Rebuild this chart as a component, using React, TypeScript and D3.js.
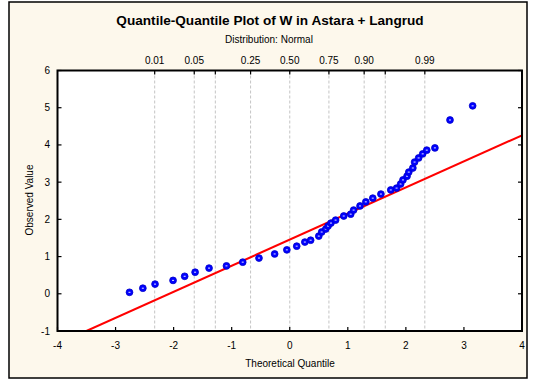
import React from 'react';
import * as d3 from 'd3';

const theoretical = [
    -2.76, -2.53, -2.32, -2.01, -1.81, -1.63, -1.39, -1.09, -0.81, -0.53, -0.26, -0.05,
    0.12, 0.26, 0.36, 0.5, 0.55, 0.62, 0.66, 0.71, 0.79, 0.93, 1.05, 1.1, 1.21, 1.31,
    1.43, 1.57, 1.74, 1.84, 1.91, 1.95, 2.02, 2.05, 2.12, 2.15, 2.22, 2.29, 2.36, 2.5,
    2.76, 3.15,
];
const observed = [
    0.04, 0.15, 0.26, 0.36, 0.47, 0.58, 0.69, 0.75, 0.85, 0.96, 1.07, 1.18,
    1.28, 1.39, 1.44, 1.55, 1.66, 1.74, 1.82, 1.9, 1.98, 2.09, 2.14, 2.25, 2.36, 2.47,
    2.57, 2.68, 2.79, 2.84, 2.95, 3.06, 3.16, 3.27, 3.38, 3.54, 3.65, 3.76, 3.86, 3.92,
    4.67, 5.05,
];

// fitted normal line: observed = mean + sd * z
const fitMean = 1.455;
const fitSd = 0.701;

const xTicks = [-4, -3, -2, -1, 0, 1, 2, 3, 4];
const yTicks = [-1, 0, 1, 2, 3, 4, 5, 6];
const probTicks = [0.01, 0.05, 0.1, 0.25, 0.5, 0.75, 0.9, 0.95, 0.99];
const probLabels = ['0.01', '0.05', '', '0.25', '0.50', '0.75', '0.90', '', '0.99'];

const font = '"Liberation Sans", Arial, sans-serif';

// inverse normal CDF (Acklam's approximation) for the probability scale on top
const invNorm = (p: number) => {
    const a = [-3.969683028665376e1, 2.209460984245205e2, -2.759285104469687e2, 1.38357751867269e2, -3.066479806614716e1, 2.506628277459239];
    const b = [-5.447609879822406e1, 1.615858368580409e2, -1.556989798598866e2, 6.680131188771972e1, -1.328068155288572e1];
    const c = [-7.784894002430293e-3, -3.223964580411365e-1, -2.400758277161838, -2.549732539343734, 4.374664141464968, 2.938163982698783];
    const dd = [7.784695709041462e-3, 3.224671290700398e-1, 2.445134137142996, 3.754408661907416];
    const pl = 0.02425;
    if (p < pl) {
        const q = Math.sqrt(-2 * Math.log(p));
        return (((((c[0] * q + c[1]) * q + c[2]) * q + c[3]) * q + c[4]) * q + c[5]) /
            ((((dd[0] * q + dd[1]) * q + dd[2]) * q + dd[3]) * q + 1);
    }
    if (p > 1 - pl) {
        const q = Math.sqrt(-2 * Math.log(1 - p));
        return -(((((c[0] * q + c[1]) * q + c[2]) * q + c[3]) * q + c[4]) * q + c[5]) /
            ((((dd[0] * q + dd[1]) * q + dd[2]) * q + dd[3]) * q + 1);
    }
    const q = p - 0.5;
    const r = q * q;
    return (((((a[0] * r + a[1]) * r + a[2]) * r + a[3]) * r + a[4]) * r + a[5]) * q /
        (((((b[0] * r + b[1]) * r + b[2]) * r + b[3]) * r + b[4]) * r + 1);
};

const App: React.FC = () => {
    const W = 534;
    const H = 382;
    const margin = { left: 57.5, right: 522, top: 70.5, bottom: 331 };

    const x = d3.scaleLinear().domain([-4, 4]).range([margin.left, margin.right]);
    const y = d3.scaleLinear().domain([-1, 6]).range([margin.bottom, margin.top]);

    // fitted line, clipped to the plot box
    const zStart = (-1 - fitMean) / fitSd;
    const line = d3.line<number>()
        .x(z => x(z))
        .y(z => y(fitMean + fitSd * z));

    const points = theoretical.map((t, i) => ({ t, o: observed[i] }));

    return (
        <svg width={W} height={H} style={{ position: 'absolute', left: 0, top: 0, background: '#ffffff' }}>
            <rect x={9} y={2} width={518} height={376} fill="#fdf8ec" stroke="#000" strokeWidth={1.5} />

            <text x={270} y={25} textAnchor="middle" fontFamily={font} fontSize={13.6} fontWeight="bold" fill="#000">
                Quantile-Quantile Plot of W in Astara + Langrud
            </text>
            <text x={269} y={43} textAnchor="middle" fontFamily={font} fontSize={10} fill="#000">
                Distribution: Normal
            </text>

            <rect x={margin.left} y={margin.top} width={margin.right - margin.left}
                height={margin.bottom - margin.top} fill="#fff" />

            {/* probability gridlines */}
            {probTicks.map((p, i) => {
                const px = x(invNorm(p));
                return (
                    <g key={p}>
                        <line x1={px} x2={px} y1={margin.top} y2={margin.bottom}
                            stroke="#c4c4c4" strokeWidth={1} strokeDasharray="3,2" />
                        <line x1={px} x2={px} y1={margin.top} y2={margin.top + 4} stroke="#000" strokeWidth={1.2} />
                        {probLabels[i] && (
                            <text x={px} y={63.5} textAnchor="middle" fontFamily={font} fontSize={10} fill="#000">
                                {probLabels[i]}
                            </text>
                        )}
                    </g>
                );
            })}

            <defs>
                <clipPath id="plotClip">
                    <rect x={margin.left} y={margin.top} width={margin.right - margin.left}
                        height={margin.bottom - margin.top} />
                </clipPath>
            </defs>

            <path d={line([zStart, 4]) || ''} stroke="#ff0000" strokeWidth={2} fill="none" clipPath="url(#plotClip)" />

            {points.map((d, i) => (
                <g key={i}>
                    <circle cx={x(d.t)} cy={y(d.o)} r={3.4} fill="#0000ff" stroke="#0000c8" strokeWidth={0.8} />
                    <line x1={x(d.t) - 1} x2={x(d.t) + 1} y1={y(d.o)} y2={y(d.o)} stroke="#fff" strokeWidth={0.9} />
                </g>
            ))}

            {/* x axis ticks */}
            {xTicks.map(t => (
                <g key={t}>
                    <line x1={x(t)} x2={x(t)} y1={margin.bottom} y2={margin.bottom - 4} stroke="#000" strokeWidth={1.2} />
                    <text x={x(t)} y={348.5} textAnchor="middle" fontFamily={font} fontSize={10} fill="#000">{t}</text>
                </g>
            ))}

            {/* y axis ticks, left and right */}
            {yTicks.map(t => (
                <g key={t}>
                    <line x1={margin.left} x2={margin.left + 4} y1={y(t)} y2={y(t)} stroke="#000" strokeWidth={1.2} />
                    <line x1={margin.right} x2={margin.right - 4} y1={y(t)} y2={y(t)} stroke="#000" strokeWidth={1.2} />
                    <text x={50} y={y(t) + 3.5} textAnchor="end" fontFamily={font} fontSize={10} fill="#000">{t}</text>
                </g>
            ))}

            <rect x={margin.left} y={margin.top} width={margin.right - margin.left}
                height={margin.bottom - margin.top} fill="none" stroke="#000" strokeWidth={2} />

            <text x={290} y={367} textAnchor="middle" fontFamily={font} fontSize={10} fill="#000">
                Theoretical Quantile
            </text>
            <text transform="translate(33, 200) rotate(-90)" textAnchor="middle" fontFamily={font} fontSize={10} fill="#000">
                Observed Value
            </text>
        </svg>
    );
};

export default App;
